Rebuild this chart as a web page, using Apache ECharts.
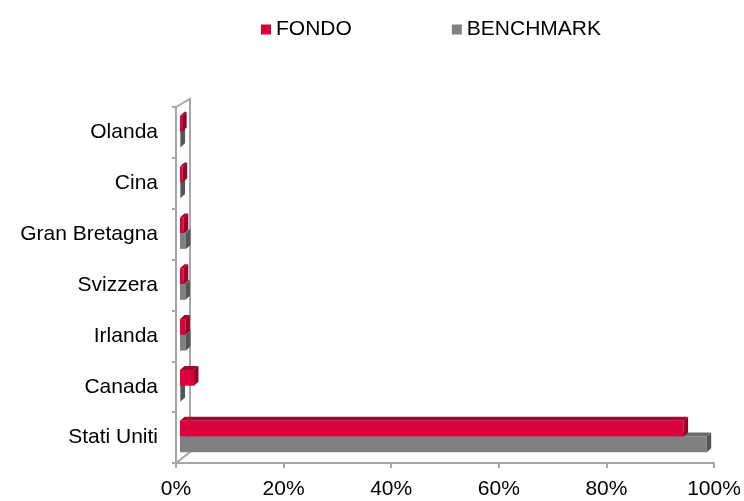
<!DOCTYPE html>
<html>
<head>
<meta charset="utf-8">
<script src="https://cdn.jsdelivr.net/npm/echarts@6/dist/echarts.min.js"></script>
<style>
  html, body { margin: 0; padding: 0; background: #fff; }
  #chart { width: 744px; height: 501px; }
</style>
</head>
<body>
<div id="chart"></div>
<script>
var categories = ['Stati Uniti', 'Canada', 'Irlanda', 'Svizzera', 'Gran Bretagna', 'Cina', 'Olanda']
var fondo = [93.6, 2.6, 1.0, 0.7, 0.7, 0.5, 0.4]
var benchmark = [97.9, 0.1, 1.1, 1.0, 1.1, 0.1, 0.1]
var xTicks = [0, 20, 40, 60, 80, 100]

var font = "'Liberation Sans', Arial, sans-serif"
var gridLeft = 176
var gridTop = 107
var gridRight = 30
var gridBottom = 38
var axisColor = '#a6a6a6'

// 3D-looking bar: front face + top face + right side face
function makeRender (front, top, side, upper) {
  return function (params, api) {
    var idx = api.value(1)
    var c = api.coord([api.value(0), idx])
    var c0 = api.coord([0, idx])
    var band = api.size([0, 1])[1]
    var h = band * 0.31
    var x0 = c0[0] + 4
    var x1 = Math.max(c[0] + 4, x0)
    var y = upper ? c[1] - 1 - h : c[1] - 1
    var dx = 4.5
    var dy = -4
    return {
      type: 'group',
      children: [
        { type: 'rect', shape: { x: x0, y: y, width: x1 - x0, height: h }, style: { fill: front } },
        { type: 'polygon', shape: { points: [[x0, y], [x1, y], [x1 + dx, y + dy], [x0 + dx, y + dy]] }, style: { fill: top } },
        { type: 'polygon', shape: { points: [[x1, y], [x1 + dx, y + dy], [x1 + dx, y + h + dy], [x1, y + h]] }, style: { fill: side } }
      ]
    }
  }
}

var chart = echarts.init(document.getElementById('chart'))
var H = 501
var option = {
  animation: false,
  textStyle: { fontFamily: font },
  legend: {
    left: 256,
    top: 14,
    itemWidth: 10,
    itemHeight: 10,
    itemGap: 100,
    icon: 'rect',
    textStyle: { fontSize: 21, color: '#000', fontFamily: font },
    data: ['FONDO', 'BENCHMARK']
  },
  grid: { left: gridLeft, top: gridTop, right: gridRight, bottom: gridBottom },
  xAxis: {
    type: 'value',
    min: 0,
    max: 100,
    interval: 20,
    axisLine: { show: true, lineStyle: { color: axisColor, width: 2 } },
    axisTick: { show: true, length: 5, lineStyle: { color: axisColor, width: 2 } },
    splitLine: { show: false },
    axisLabel: {
      fontSize: 21,
      color: '#000',
      margin: 16,
      fontFamily: font,
      formatter: function (v) { return xTicks.indexOf(v) >= 0 ? v + '%' : '' }
    }
  },
  yAxis: {
    type: 'category',
    data: categories,
    axisLine: { show: true, lineStyle: { color: axisColor, width: 2 } },
    axisTick: { show: true, length: 4, lineStyle: { color: axisColor, width: 2 } },
    axisLabel: { fontSize: 21, color: '#000', margin: 18, fontFamily: font }
  },
  graphic: [
    {
      type: 'polyline',
      shape: {
        points: [
          [gridLeft, gridTop], [gridLeft + 14, gridTop - 8],
          [gridLeft + 14, H - gridBottom - 11], [gridLeft, H - gridBottom]
        ]
      },
      style: { stroke: axisColor, lineWidth: 2, fill: null },
      z: 0
    }
  ],
  series: [
    {
      name: 'BENCHMARK',
      type: 'custom',
      itemStyle: { color: '#808080' },
      renderItem: makeRender('#808080', '#6b6b6b', '#555555', false),
      encode: { x: 0, y: 1 },
      data: benchmark.map(function (v, i) { return [v, i] })
    },
    {
      name: 'FONDO',
      type: 'custom',
      itemStyle: { color: '#d9003d' },
      renderItem: makeRender('#d9003d', '#a8002f', '#980028', true),
      encode: { x: 0, y: 1 },
      data: fondo.map(function (v, i) { return [v, i] })
    }
  ]
}
chart.setOption(option)
</script>
</body>
</html>
